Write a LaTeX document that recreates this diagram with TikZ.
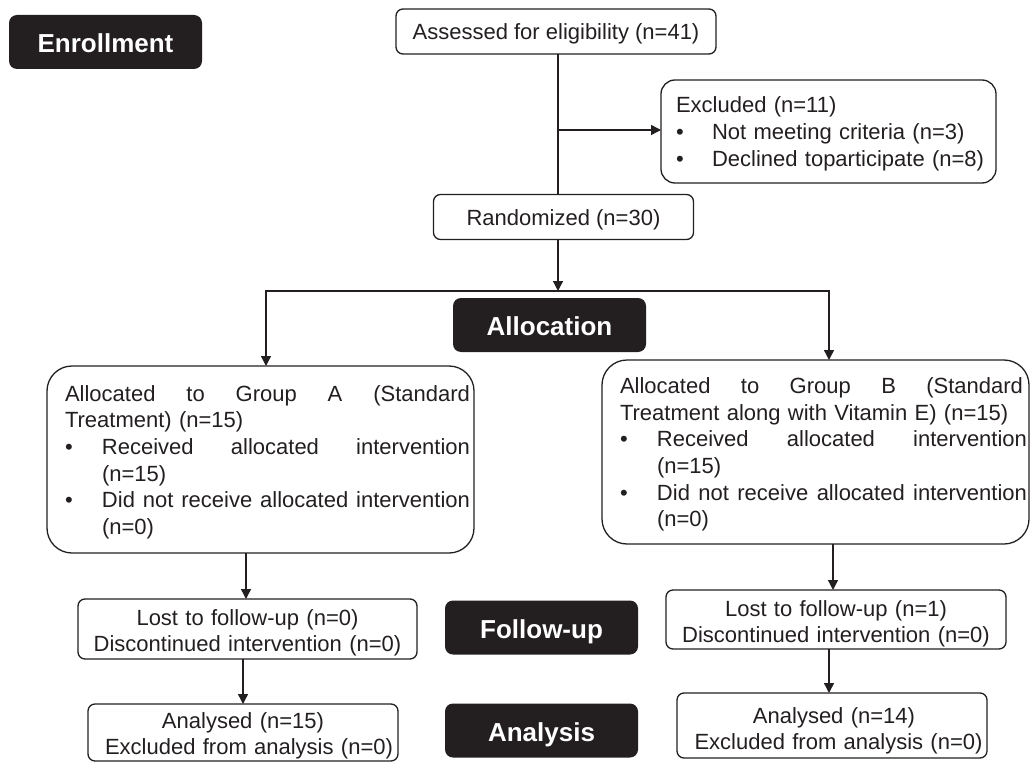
\documentclass[tikz,border=0pt]{standalone}
\usepackage{fontspec}
\setmainfont{Liberation Sans}
\usetikzlibrary{arrows.meta}
\definecolor{ink}{HTML}{231F20}
\newcommand\jsp{\hskip 6.1pt plus 1fill\relax}
\newcommand\jline[2]{\hbox to #1{#2}}
\begin{document}
\begin{tikzpicture}[x=1pt,y=-1pt,
  every node/.style={inner sep=0pt, outer sep=0pt},
  txt/.style={font=\fontsize{22}{26.7}\selectfont, text=ink},
  stage/.style={fill=ink, rounded corners=8pt, minimum width=193pt, minimum height=54pt,
    text=white, font=\fontsize{26}{30}\selectfont\bfseries, text height=21.5pt, text depth=0pt},
  sbox/.style={draw=ink, line width=1.3pt, rounded corners=7pt},
  single/.style={sbox, txt, text height=16pt, text depth=0pt},
  arr/.style={draw=ink, line width=1.4pt, -{Triangle[length=10pt,width=10pt]}},
  conn/.style={draw=ink, line width=1.4pt},
]
\useasboundingbox (0,0) rectangle (1030,762);

% stage labels
\node[stage] (enr) at (105.5,42) {Enrollment};
\node[stage] (alloc) at (549.5,325) {Allocation};
\node[stage] (fu) at (541.5,627.5) {Follow-up};
\node[stage] (an) at (541.5,730.5) {Analysis};

% enrollment boxes
\node[single, minimum width=320pt, minimum height=45pt] (assess) at (556,31.5) {Assessed for eligibility (n=41)};
\node[single, minimum width=260pt, minimum height=45pt] (rand) at (563.5,217) {Randomized (n=30)};
\node[sbox, rounded corners=14pt, minimum width=335pt, minimum height=103pt] (excl) at (828.5,131.5) {};
\node[txt, anchor=base west, text width=320pt, align=left] (excltxt) at (676,113)
  {Excluded (n=11)\\
   \makebox[36pt][l]{•}Not meeting criteria (n=3)\\
   \makebox[36pt][l]{•}Declined toparticipate (n=8)};

% allocation boxes
\node[sbox, rounded corners=25pt, minimum width=427pt, minimum height=187pt] (ga) at (260.5,459.5) {};
\node[txt, anchor=base west, text width=405pt, align=left] (gatxt) at (65,401)
  {\jline{405pt}{Allocated\jsp to\jsp Group\jsp A\jsp (Standard}\\
   Treatment) (n=15)\\
   \makebox[37pt][l]{•}\jline{368pt}{Received\jsp allocated\jsp intervention}\\
   \hspace*{37pt}(n=15)\\
   \makebox[37pt][l]{•}\jline{368pt}{Did\jsp not\jsp receive\jsp allocated\jsp intervention}\\
   \hspace*{37pt}(n=0)};

\node[sbox, rounded corners=25pt, minimum width=427pt, minimum height=184pt] (gb) at (815.5,452) {};
\node[txt, anchor=base west, text width=405pt, align=left] (gbtxt) at (620,393.3)
  {\jline{403pt}{Allocated\jsp to\jsp Group\jsp B\jsp (Standard}\\
   Treatment along with Vitamin E) (n=15)\\
   \makebox[37pt][l]{•}\jline{370pt}{Received\jsp allocated\jsp intervention}\\
   \hspace*{37pt}(n=15)\\
   \makebox[37pt][l]{•}\jline{370pt}{Did\jsp not\jsp receive\jsp allocated\jsp intervention}\\
   \hspace*{37pt}(n=0)};

% follow-up boxes
\node[sbox, minimum width=339pt, minimum height=60pt] (la) at (247.5,629) {};
\node[txt, anchor=base, text width=339pt, align=center] (latxt) at (247.5,625)
  {Lost to follow-up (n=0)\\Discontinued intervention (n=0)};
\node[sbox, minimum width=340pt, minimum height=59pt] (lb) at (836,619.5) {};
\node[txt, anchor=base, text width=340pt, align=center] (lbtxt) at (836,616)
  {Lost to follow-up (n=1)\\Discontinued intervention (n=0)};

% analysis boxes
\node[sbox, minimum width=310pt, minimum height=57pt] (aa) at (243,732.5) {};
\node[txt, anchor=base, text width=340pt, align=center] (aatxt) at (243,728)
  {Analysed (n=15)\\\hspace*{12pt}Excluded from analysis (n=0)};
\node[sbox, minimum width=310pt, minimum height=65pt] (ab) at (832,725.5) {};
\node[txt, anchor=base, text width=340pt, align=center] (abtxt) at (834,723)
  {Analysed (n=14)\\\hspace*{9pt}Excluded from analysis (n=0)};

% connectors
\coordinate (jx) at (558,130);
\coordinate (split) at (558,291);
\coordinate (bl) at (266,291);
\coordinate (br) at (829,291);
\coordinate (xa1) at (246,0);
\coordinate (xa2) at (243,0);
\coordinate (xb1) at (833,0);
\coordinate (xb2) at (829,0);

\draw[conn] (assess.south -| jx) -- (rand.north -| jx);
\draw[arr] (jx) -- (excl.west |- jx);
\draw[arr] (rand.south -| split) -- (split);
\draw[arr] (br) -- (bl) -- (bl |- ga.north);
\draw[arr] (bl) -- (br) -- (br |- gb.north);
\draw[arr] (ga.south -| xa1) -- (la.north -| xa1);
\draw[arr] (la.south -| xa2) -- (aa.north -| xa2);
\draw[arr] (gb.south -| xb1) -- (lb.north -| xb1);
\draw[arr] (lb.south -| xb2) -- (ab.north -| xb2);
\end{tikzpicture}
\end{document}
